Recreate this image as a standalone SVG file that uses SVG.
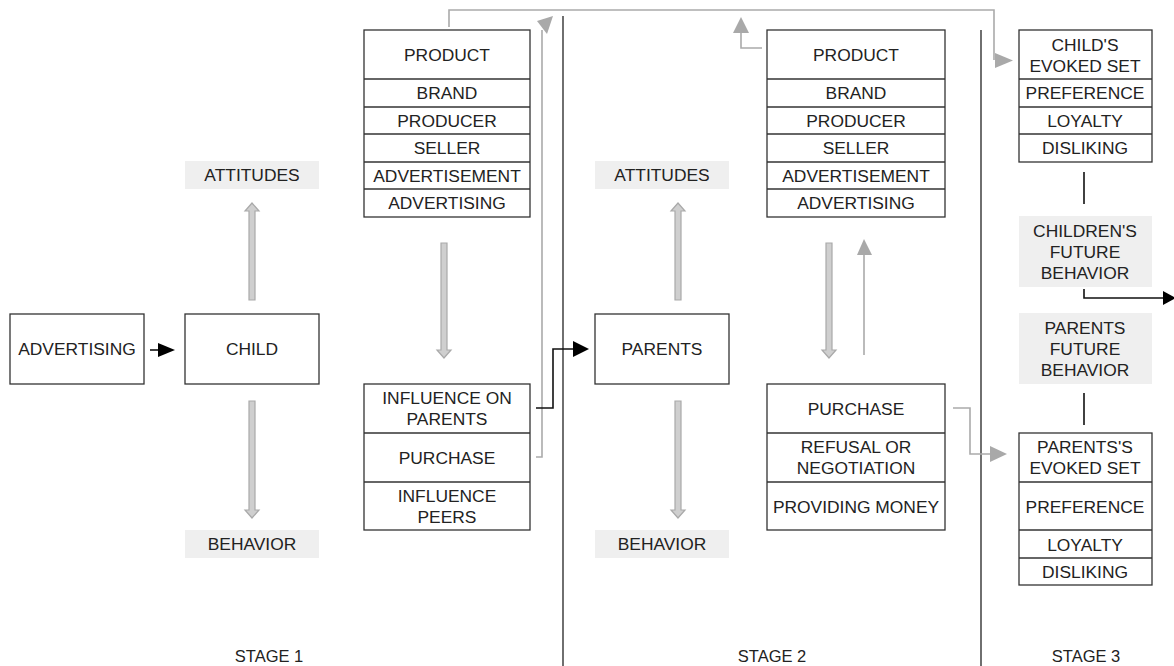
<svg xmlns="http://www.w3.org/2000/svg" width="1174" height="666" viewBox="0 0 1174 666">
  <defs>
    <style>
      text { font-family: "Liberation Sans", Arial, sans-serif; font-size: 17.4px; fill: #222; text-anchor: middle; }
      .box { fill: #fff; stroke: #333; stroke-width: 1.3; }
      .row { stroke: #333; stroke-width: 1.3; }
      .tag { fill: #efefef; }
      .stage { font-size: 16.5px; }
      .divider { stroke: #222; stroke-width: 1.3; }
      .thick { fill: #cfcfcf; stroke: #a9a9a9; stroke-width: 1.2; }
      .thin { fill: none; stroke: #aaa; stroke-width: 1.6; }
      .head { fill: #a9a9a9; }
      .link { fill: none; stroke: #111; stroke-width: 1.6; }
      .bhead { fill: #000; }
    </style>
  </defs>

  <rect width="1174" height="666" fill="#fff"/>

  <!-- stage dividers -->
  <line class="divider" x1="563" y1="16" x2="563" y2="666"/>
  <line class="divider" x1="981" y1="30" x2="981" y2="666"/>

  <!-- stage 1 -->
  <g id="advertising">
    <rect class="box" x="10" y="314" width="134" height="70"/>
    <text x="77" y="355">ADVERTISING</text>
  </g>
  <g id="child">
    <rect class="box" x="185" y="314" width="134" height="70"/>
    <text x="252" y="355">CHILD</text>
  </g>
  <g id="attitudes-1">
    <rect class="tag" x="185" y="161" width="134" height="28"/>
    <text x="252" y="181">ATTITUDES</text>
  </g>
  <g id="behavior-1">
    <rect class="tag" x="185" y="530" width="134" height="28"/>
    <text x="252" y="550">BEHAVIOR</text>
  </g>
  <g id="product-1">
    <rect class="box" x="364" y="30" width="166" height="187"/>
    <line class="row" x1="364" y1="79" x2="530" y2="79"/>
    <line class="row" x1="364" y1="107" x2="530" y2="107"/>
    <line class="row" x1="364" y1="134" x2="530" y2="134"/>
    <line class="row" x1="364" y1="162" x2="530" y2="162"/>
    <line class="row" x1="364" y1="189" x2="530" y2="189"/>
    <text x="447" y="61">PRODUCT</text>
    <text x="447" y="99">BRAND</text>
    <text x="447" y="127">PRODUCER</text>
    <text x="447" y="154">SELLER</text>
    <text x="447" y="182">ADVERTISEMENT</text>
    <text x="447" y="209">ADVERTISING</text>
  </g>
  <g id="outcomes-1">
    <rect class="box" x="364" y="384" width="166" height="146"/>
    <line class="row" x1="364" y1="433" x2="530" y2="433"/>
    <line class="row" x1="364" y1="482" x2="530" y2="482"/>
    <text x="447" y="404">INFLUENCE ON</text>
    <text x="447" y="425">PARENTS</text>
    <text x="447" y="464">PURCHASE</text>
    <text x="447" y="502">INFLUENCE</text>
    <text x="447" y="523">PEERS</text>
  </g>

  <!-- stage 2 -->
  <g id="parents">
    <rect class="box" x="595" y="314" width="134" height="70"/>
    <text x="662" y="355">PARENTS</text>
  </g>
  <g id="attitudes-2">
    <rect class="tag" x="595" y="161" width="134" height="28"/>
    <text x="662" y="181">ATTITUDES</text>
  </g>
  <g id="behavior-2">
    <rect class="tag" x="595" y="530" width="134" height="28"/>
    <text x="662" y="550">BEHAVIOR</text>
  </g>
  <g id="product-2">
    <rect class="box" x="767" y="30" width="178" height="187"/>
    <line class="row" x1="767" y1="79" x2="945" y2="79"/>
    <line class="row" x1="767" y1="107" x2="945" y2="107"/>
    <line class="row" x1="767" y1="134" x2="945" y2="134"/>
    <line class="row" x1="767" y1="162" x2="945" y2="162"/>
    <line class="row" x1="767" y1="189" x2="945" y2="189"/>
    <text x="856" y="61">PRODUCT</text>
    <text x="856" y="99">BRAND</text>
    <text x="856" y="127">PRODUCER</text>
    <text x="856" y="154">SELLER</text>
    <text x="856" y="182">ADVERTISEMENT</text>
    <text x="856" y="209">ADVERTISING</text>
  </g>
  <g id="outcomes-2">
    <rect class="box" x="767" y="384" width="178" height="146"/>
    <line class="row" x1="767" y1="433" x2="945" y2="433"/>
    <line class="row" x1="767" y1="482" x2="945" y2="482"/>
    <text x="856" y="415">PURCHASE</text>
    <text x="856" y="453">REFUSAL OR</text>
    <text x="856" y="474">NEGOTIATION</text>
    <text x="856" y="513">PROVIDING MONEY</text>
  </g>

  <!-- stage 3 -->
  <g id="child-evoked-set">
    <rect class="box" x="1019" y="30" width="133" height="132"/>
    <line class="row" x1="1019" y1="79" x2="1152" y2="79"/>
    <line class="row" x1="1019" y1="107" x2="1152" y2="107"/>
    <line class="row" x1="1019" y1="134" x2="1152" y2="134"/>
    <text x="1085" y="51">CHILD'S</text>
    <text x="1085" y="72">EVOKED SET</text>
    <text x="1085" y="99">PREFERENCE</text>
    <text x="1085" y="127">LOYALTY</text>
    <text x="1085" y="154">DISLIKING</text>
  </g>
  <g id="children-future-behavior">
    <rect class="tag" x="1019" y="216" width="133" height="71"/>
    <text x="1085" y="237">CHILDREN'S</text>
    <text x="1085" y="258">FUTURE</text>
    <text x="1085" y="279">BEHAVIOR</text>
  </g>
  <g id="parents-future-behavior">
    <rect class="tag" x="1019" y="313" width="133" height="71"/>
    <text x="1085" y="334">PARENTS</text>
    <text x="1085" y="355">FUTURE</text>
    <text x="1085" y="376">BEHAVIOR</text>
  </g>
  <g id="parents-evoked-set">
    <rect class="box" x="1019" y="433" width="133" height="152"/>
    <line class="row" x1="1019" y1="482" x2="1152" y2="482"/>
    <line class="row" x1="1019" y1="530" x2="1152" y2="530"/>
    <line class="row" x1="1019" y1="558" x2="1152" y2="558"/>
    <text x="1085" y="453">PARENTS'S</text>
    <text x="1085" y="474">EVOKED SET</text>
    <text x="1085" y="513">PREFERENCE</text>
    <text x="1085" y="551">LOYALTY</text>
    <text x="1085" y="578">DISLIKING</text>
  </g>

  <!-- stage captions -->
  <g id="stage-labels">
    <text class="stage" x="269" y="662">STAGE 1</text>
    <text class="stage" x="772" y="662">STAGE 2</text>
    <text class="stage" x="1086" y="662">STAGE 3</text>
  </g>

  <!-- connectors -->
  <g id="connectors">
    <!-- hollow grey block arrows -->
    <path class="thick" d="M249,300 V211 H245 L252,203 L259,211 H255 V300 Z"/>
    <path class="thick" d="M249,401 V510 H245 L252,518 L259,510 H255 V401 Z"/>
    <path class="thick" d="M441,243 V350 H437 L444,358 L451,350 H447 V243 Z"/>
    <path class="thick" d="M675,300 V211 H671 L678,203 L685,211 H681 V300 Z"/>
    <path class="thick" d="M675,401 V510 H671 L678,518 L685,510 H681 V401 Z"/>
    <path class="thick" d="M826,243 V350 H822 L829,358 L836,350 H832 V243 Z"/>

    <!-- thin grey links -->
    <line class="thin" x1="864" y1="355" x2="864" y2="253"/>
    <polygon class="head" points="857,255 864,239 872,255"/>

    <polyline class="thin" points="536,457 542,457 542,30"/>
    <polygon class="head" points="537,21 553,16 547,34"/>

    <polyline class="thin" points="449,27 449,10 994,10 994,60"/>
    <polygon class="head" points="995,53 1013,60.5 995,68"/>

    <polyline class="thin" points="762,48 741,48 741,32"/>
    <polygon class="head" points="733,33 741,17 749,33"/>

    <polyline class="thin" points="953,408 970,408 970,454 991,454"/>
    <polygon class="head" points="990,446 1007,454 990,462"/>

    <!-- black links -->
    <line class="link" x1="150" y1="350" x2="160" y2="350"/>
    <polygon class="bhead" points="158,343 175,350 158,357"/>

    <polyline class="link" points="536,408 553,408 553,349 575,349"/>
    <polygon class="bhead" points="573,341 589,349 573,357"/>

    <line class="link" x1="1084" y1="172" x2="1084" y2="204"/>
    <line class="link" x1="1084" y1="393" x2="1084" y2="425"/>
    <polyline class="link" points="1084,289 1084,298 1165,298"/>
    <polygon class="bhead" points="1163,291 1176,298 1163,305"/>
  </g>
</svg>
